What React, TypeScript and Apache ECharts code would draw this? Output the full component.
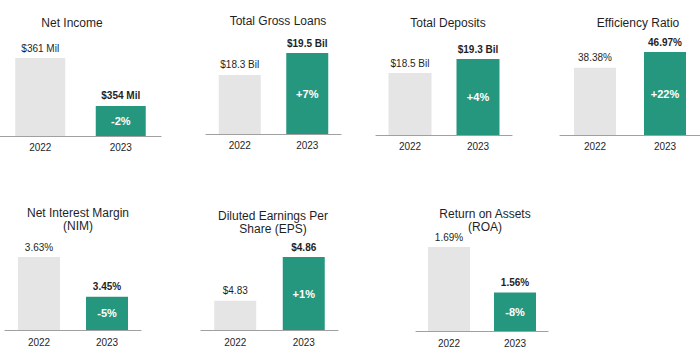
import React, { useEffect, useRef } from "react";
import * as echarts from "echarts";

const categories = ["2022", "2023"];

const panelTitles = [
  "Net Income",
  "Total Gross Loans",
  "Total Deposits",
  "Efficiency Ratio",
  "Net Interest Margin\n(NIM)",
  "Diluted Earnings Per\nShare (EPS)",
  "Return on Assets\n(ROA)",
];

const netIncome = [361, 354];
const grossLoans = [18.3, 19.5];
const deposits = [18.5, 19.3];
const efficiencyRatio = [38.38, 46.97];
const nim = [3.63, 3.45];
const eps = [4.83, 4.86];
const roa = [1.69, 1.56];

const changeLabels = ["-2%", "+7%", "+4%", "+22%", "-5%", "+1%", "-8%"];

const seriesValues = [netIncome, grossLoans, deposits, efficiencyRatio, nim, eps, roa];

const formatters: ((v: number) => string)[] = [
  (v) => `$${v} Mil`,
  (v) => `$${v.toFixed(1)} Bil`,
  (v) => `$${v.toFixed(1)} Bil`,
  (v) => `${v.toFixed(2)}%`,
  (v) => `${v.toFixed(2)}%`,
  (v) => `$${v.toFixed(2)}`,
  (v) => `${v.toFixed(2)}%`,
];

// layout (styling only)
const layouts = [
  { left: 0, width: 161, top: 58, bottom: 136, min: 349.6, barWidth: 50, tx: 72, ty: 23, margin: 6 },
  { left: 206, width: 135, top: 53, bottom: 134, min: 15.08, barWidth: 42, tx: 278, ty: 21, margin: 6 },
  { left: 376, width: 136, top: 59, bottom: 135, min: 14.96, barWidth: 43, tx: 448, ty: 23, margin: 6 },
  { left: 560, width: 142, top: 52, bottom: 135, min: 2, barWidth: 42, tx: 638, ty: 23, margin: 6 },
  { left: 5, width: 136, top: 257, bottom: 330, min: 3.3, barWidth: 42, tx: 78, ty: 219.5, margin: 7 },
  { left: 201, width: 137, top: 257, bottom: 330, min: 4.81, barWidth: 42, tx: 273, ty: 222.5, margin: 7 },
  { left: 416, width: 132, top: 247, bottom: 331, min: 1.45, barWidth: 42, tx: 485, ty: 220, margin: 7 },
];

const GREY = "#e5e5e5";
const TEAL = "#26977f";
const TEXT = "#1f1f1f";
const FONT = "'Liberation Sans', Arial, sans-serif";

export default function App() {
  const ref = useRef<HTMLDivElement>(null);
  useEffect(() => {
    if (!ref.current) return;
    const chart = echarts.init(ref.current, null, { renderer: "svg" });
    const grid: any[] = [];
    const xAxis: any[] = [];
    const yAxis: any[] = [];
    const series: any[] = [];
    const graphic: any[] = [];
    layouts.forEach((L, i) => {
      const vals = seriesValues[i];
      grid.push({ left: L.left, top: L.top, width: L.width, height: L.bottom - L.top, containLabel: false });
      xAxis.push({
        type: "category",
        gridIndex: i,
        data: categories,
        axisLine: { show: true, lineStyle: { color: "#a0a0a0", width: 1.2 } },
        axisTick: { show: false },
        axisLabel: { color: TEXT, fontSize: 10, fontFamily: FONT, margin: L.margin },
      });
      yAxis.push({
        type: "value",
        gridIndex: i,
        min: L.min,
        max: "dataMax",
        show: false,
        splitLine: { show: false },
      });
      series.push({
        type: "bar",
        xAxisIndex: i,
        yAxisIndex: i,
        barWidth: L.barWidth,
        barGap: "-100%",
        data: vals.map((v, j) => ({
          value: v,
          itemStyle: { color: j === 0 ? GREY : TEAL },
          label: {
            show: true,
            position: "top",
            distance: 5,
            formatter: formatters[i](v),
            color: TEXT,
            fontSize: 10,
            fontFamily: FONT,
            fontWeight: j === 1 ? "bold" : "normal",
          },
        })),
      });
      series.push({
        type: "bar",
        xAxisIndex: i,
        yAxisIndex: i,
        barWidth: L.barWidth,
        barGap: "-100%",
        silent: true,
        itemStyle: { color: "rgba(0,0,0,0)" },
        data: vals.map((v, j) =>
          j === 1
            ? {
                value: v,
                label: {
                  show: true,
                  position: "inside",
                  formatter: changeLabels[i],
                  color: "#ffffff",
                  fontSize: 11,
                  fontWeight: "bold",
                  fontFamily: FONT,
                },
              }
            : "-"
        ),
      });
      graphic.push({
        type: "text",
        x: L.tx,
        y: L.ty,
        style: {
          text: panelTitles[i],
          fill: TEXT,
          font: `12px ${FONT}`,
          textAlign: "center",
          textVerticalAlign: "middle",
          lineHeight: 13,
        },
      });
    });
    chart.setOption({
      animation: false,
      backgroundColor: "#ffffff",
      grid,
      xAxis,
      yAxis,
      series,
      graphic,
    });
    return () => chart.dispose();
  }, []);
  return (
    <div
      ref={ref}
      style={{ position: "absolute", left: 0, top: 0, width: 700, height: 360, background: "#fff" }}
    />
  );
}
